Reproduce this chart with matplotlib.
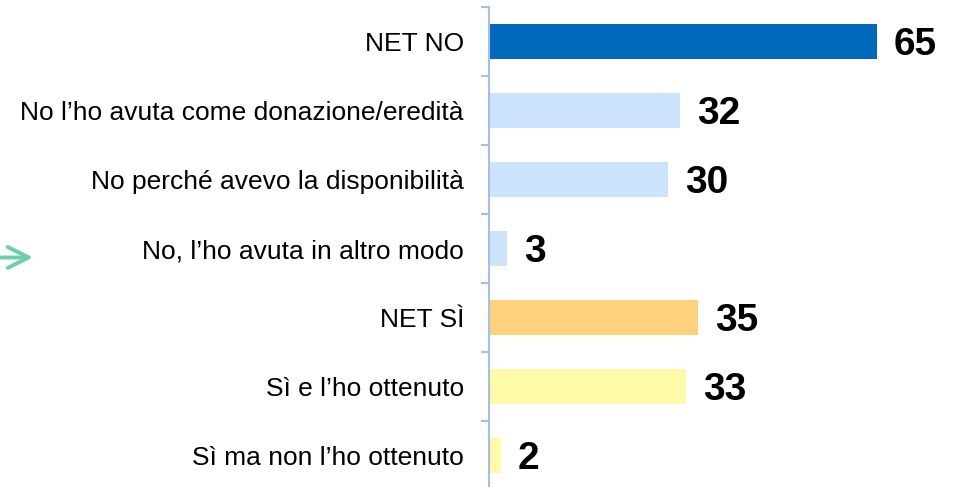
'''Bar chart: NET NO / NET SI breakdown'''
import numpy as np
from matplotlib import pyplot as plt

categories = [
    "NET NO",
    "No l\u2019ho avuta come donazione/eredit\u00e0",
    "No perch\u00e9 avevo la disponibilit\u00e0",
    "No, l\u2019ho avuta in altro modo",
    "NET S\u00cc",
    "S\u00ec e l\u2019ho ottenuto",
    "S\u00ec ma non l\u2019ho ottenuto",
]
values = [65, 32, 30, 3, 35, 33, 2]
bar_colors = ["#0069bd", "#cce4fb", "#cce4fb", "#cce4fb",
              "#fed27d", "#fefaa8", "#fefaa8"]
arrow_row = 3

plt.rcParams['font.family'] = ['Liberation Sans', 'DejaVu Sans']

fig = plt.figure(figsize=(9.57, 4.87), dpi=100)
ax = fig.add_axes([489 / 957, -3 / 487, 468 / 957, 483 / 487])

y = np.arange(len(categories))
ax.barh(y, values, height=0.5, color=bar_colors)

ax.set_xlim(0, 78.5)
ax.set_ylim(len(categories) - 0.5, -0.5)

# value labels
for i, v in enumerate(values):
    ax.annotate(str(v), xy=(v, i), xytext=(17, -3), textcoords='offset pixels',
                ha='left', va='center', fontsize=28, fontweight='bold',
                color='black')

# axis styling
for side in ['top', 'right', 'bottom']:
    ax.spines[side].set_visible(False)
ax.spines['left'].set_color('#a7bfe8')
ax.spines['left'].set_linewidth(1.5)
ax.set_xticks([])
ax.set_yticks(y)
ax.set_yticklabels(categories, fontsize=19)
ax.tick_params(axis='y', which='major', length=0, pad=18)
ax.set_yticks(np.arange(-0.5, len(categories), 1.0), minor=True)
ax.tick_params(axis='y', which='minor', length=6, width=1.5, color='#a7bfe8')

# green arrow pointing at one row
ax.annotate('', xy=(33 / 957, arrow_row + 0.13), xytext=(0, arrow_row + 0.13),
            xycoords=('figure fraction', 'data'),
            textcoords=('figure fraction', 'data'),
            arrowprops=dict(arrowstyle='->,head_length=1.5,head_width=0.75',
                            color='#6ccfa8', lw=2.8, capstyle='round',
                            joinstyle='round', shrinkA=0, shrinkB=0),
            annotation_clip=False)

plt.savefig('out.png', dpi=100)
plt.close()
